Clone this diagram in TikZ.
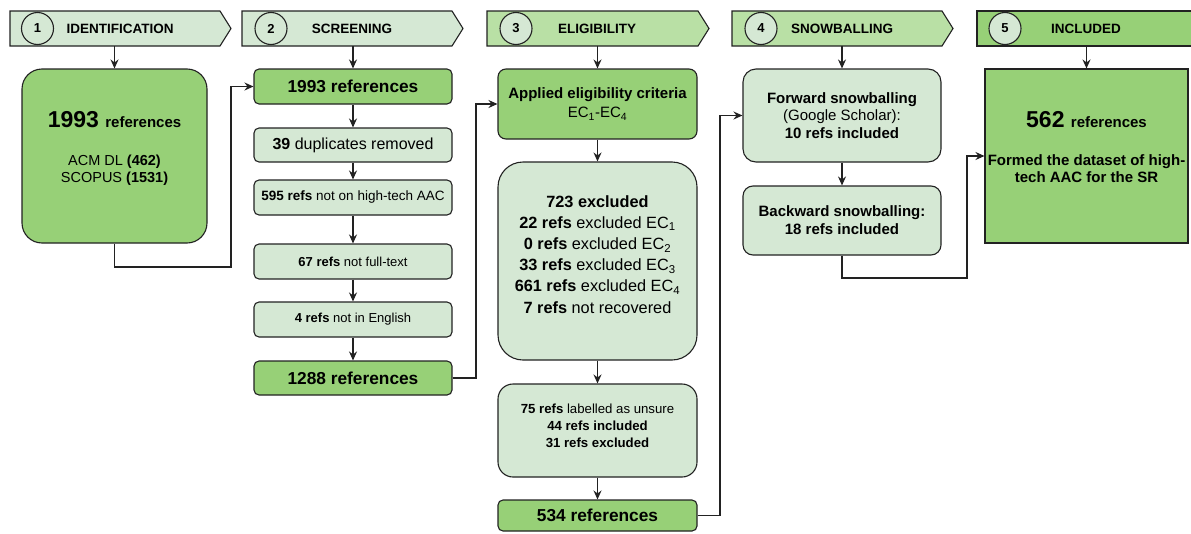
\documentclass[tikz,border=0pt]{standalone}
\usepackage{fontspec}
\setmainfont{Liberation Sans}
\usetikzlibrary{arrows.meta}
\definecolor{lg}{HTML}{D5E8D4}
\definecolor{mg}{HTML}{B9E0A5}
\definecolor{dg}{HTML}{97D077}
\definecolor{ln}{HTML}{222222}
\tikzset{
  box/.style={draw=ln, line width=1.1pt, inner sep=0pt, align=center, text=black},
  lightbox/.style={box, fill=lg},
  darkbox/.style={box, fill=dg},
  txt/.style={inner sep=0pt, align=center, text=black},
  hdr/.style={draw=ln, line width=1.1pt},
  hanchor/.style={inner sep=0pt, minimum width=210pt, minimum height=35pt},
  hnum/.style={circle, draw=ln, line width=1.1pt, minimum size=32pt, inner sep=0pt, font=\fontsize{13}{15}\selectfont\bfseries},
  htext/.style={inner sep=0pt, font=\fontsize{13.5}{16}\selectfont\bfseries},
  arr/.style={draw=ln, line width=1.2pt, -{Stealth[length=9pt,width=8pt,inset=3pt]}},
  big/.style={font=\fontsize{17.3}{20}\selectfont\bfseries},
}
\begin{document}
\begin{tikzpicture}[x=1pt,y=-1pt]
\useasboundingbox (0,0) rectangle (1191,533);
\fill[white] (0,0) rectangle (1191,533);

% ---------- headers ----------
\draw[hdr, fill=lg] (10,11) -- (220,11) -- (231,28.5) -- (220,46) -- (10,46) -- cycle;
\draw[hdr, fill=lg] (242,11) -- (452,11) -- (463,28.5) -- (452,46) -- (242,46) -- cycle;
\draw[hdr, fill=mg] (487,11) -- (698,11) -- (709,28.5) -- (698,46) -- (487,46) -- cycle;
\draw[hdr, fill=mg] (732,11) -- (942,11) -- (953,28.5) -- (942,46) -- (732,46) -- cycle;
\fill[dg] (977,11) rectangle (1200,46);
\draw[hdr] (1200,11) -- (977,11) -- (977,46) -- (1200,46);

\node[hanchor] (H1) at (115,28.5) {};
\node[hanchor] (H2) at (347,28.5) {};
\node[hanchor] (H3) at (592.5,28.5) {};
\node[hanchor] (H4) at (837,28.5) {};
\node[hanchor] (H5) at (1083,28.5) {};

\node[hnum, fill=lg] (N1) at (37.5,28.5) {1};
\node[hnum, fill=lg] (N2) at (271,28.5) {2};
\node[hnum, fill=lg] (N3) at (516,28.5) {3};
\node[hnum, fill=lg] (N4) at (761,28.5) {4};
\node[hnum, fill=lg] (N5) at (1005,28.5) {5};

\node[htext] (T1) at (120,28.5) {IDENTIFICATION};
\node[htext] (T2) at (352,28.5) {SCREENING};
\node[htext] (T3) at (597,28.5) {ELIGIBILITY};
\node[htext] (T4) at (842,28.5) {SNOWBALLING};
\node[htext] (T5) at (1086,28.5) {INCLUDED};

% ---------- identification ----------
\node[darkbox, rounded corners=20pt, minimum width=185pt, minimum height=174pt] (I) at (114.5,156) {};
\node[txt, anchor=north, font=\fontsize{14.5}{17.5}\selectfont] (Itxt) at (114.5,111.5) {%
  {\fontsize{23}{28}\selectfont\bfseries 1993 }{\fontsize{15}{18}\selectfont\bfseries references}\\[20pt]
  ACM DL \textbf{(462)}\\
  SCOPUS \textbf{(1531)}};

% ---------- screening ----------
\node[darkbox, rounded corners=5pt, minimum width=198pt, minimum height=35pt, big] (S1) at (353,86.5) {1993 references};
\node[lightbox, rounded corners=5pt, minimum width=198pt, minimum height=34pt, font=\fontsize{16}{19}\selectfont] (S2) at (353,145) {\textbf{39} duplicates removed};
\node[lightbox, rounded corners=5pt, minimum width=198pt, minimum height=35pt, font=\fontsize{13.5}{16}\selectfont] (S3) at (353,197.5) {\textbf{595 refs} not on high-tech AAC};
\node[lightbox, rounded corners=5pt, minimum width=198pt, minimum height=35pt, font=\fontsize{13}{16}\selectfont] (S4) at (353,261.5) {\textbf{67 refs} not full-text};
\node[lightbox, rounded corners=5pt, minimum width=198pt, minimum height=35pt, font=\fontsize{13}{16}\selectfont] (S5) at (353,319.5) {\textbf{4 refs} not in English};
\node[darkbox, rounded corners=5pt, minimum width=198pt, minimum height=34pt, big] (S6) at (353,378) {1288 references};

% ---------- eligibility ----------
\node[darkbox, rounded corners=8pt, minimum width=199pt, minimum height=70pt, font=\fontsize{15}{19}\selectfont] (E1) at (597.5,104) {\textbf{Applied eligibility criteria}\\EC\textsubscript{1}-EC\textsubscript{4}};
\node[lightbox, rounded corners=25pt, minimum width=199pt, minimum height=198pt] (E2) at (597.5,261) {};
\node[txt, anchor=north, font=\fontsize{16.3}{21.2}\selectfont] (E2txt) at (597.5,195) {%
  \textbf{723 excluded}\\
  \textbf{22 refs} excluded EC\textsubscript{1}\\
  \textbf{0 refs} excluded EC\textsubscript{2}\\
  \textbf{33 refs} excluded EC\textsubscript{3}\\
  \textbf{661 refs} excluded EC\textsubscript{4}\\
  \textbf{7 refs} not recovered};
\node[lightbox, rounded corners=15pt, minimum width=199pt, minimum height=93pt] (E3) at (597.5,430.5) {};
\node[txt, anchor=north, font=\fontsize{13.2}{17}\selectfont] (E3txt) at (597.5,403.5) {%
  \textbf{75 refs} labelled as unsure\\
  \textbf{44 refs included}\\
  \textbf{31 refs excluded}};
\node[darkbox, rounded corners=5pt, minimum width=199pt, minimum height=31pt, big] (E4) at (597.5,515.5) {534 references};

% ---------- snowballing ----------
\node[lightbox, rounded corners=13pt, minimum width=198pt, minimum height=93pt, font=\fontsize{15}{17.5}\selectfont] (F) at (842,115.5) {\textbf{Forward snowballing}\\(Google Scholar):\\\textbf{10 refs included}};
\node[lightbox, rounded corners=10pt, minimum width=198pt, minimum height=69pt, font=\fontsize{15}{18}\selectfont\bfseries] (B) at (842,220.5) {Backward snowballing:\\18 refs included};

% ---------- included ----------
\node[darkbox, minimum width=203pt, minimum height=174pt] (Inc) at (1086.5,156) {};
\node[txt, anchor=north, font=\fontsize{15}{17.5}\selectfont\bfseries] (Inctxt) at (1086.5,111.5) {%
  {\fontsize{23}{28}\selectfont 562 }references\\[20pt]
  Formed the dataset of high-\\
  tech AAC for the SR};

% ---------- connectors ----------
\draw[arr] (H1.south -| I.north) -- (I.north);
\draw[arr] (H2.south -| S1.north) -- (S1.north);
\draw[arr] (H3.south -| E1.north) -- (E1.north);
\draw[arr] (H4.south -| F.north) -- (F.north);
\draw[arr] (H5.south -| Inc.north) -- (Inc.north);

\draw[arr] (I.south) |- (231,267) |- (S1.west);
\draw[arr] (S1.south) -- (S2.north);
\draw[arr] (S2.south) -- (S3.north);
\draw[arr] (S3.south) -- (S4.north);
\draw[arr] (S4.south) -- (S5.north);
\draw[arr] (S5.south) -- (S6.north);
\draw[arr] (S6.east) -- (476,378) |- (E1.west);

\draw[arr] (E1.south) -- (E2.north);
\draw[arr] (E2.south) -- (E3.north);
\draw[arr] (E3.south) -- (E4.north);
\draw[arr] (E4.east) -- (720,515.5) |- (F.west);

\draw[arr] (F.south) -- (B.north);
\draw[arr] (B.south) |- (967,278) |- (Inc.west);
\end{tikzpicture}
\end{document}
